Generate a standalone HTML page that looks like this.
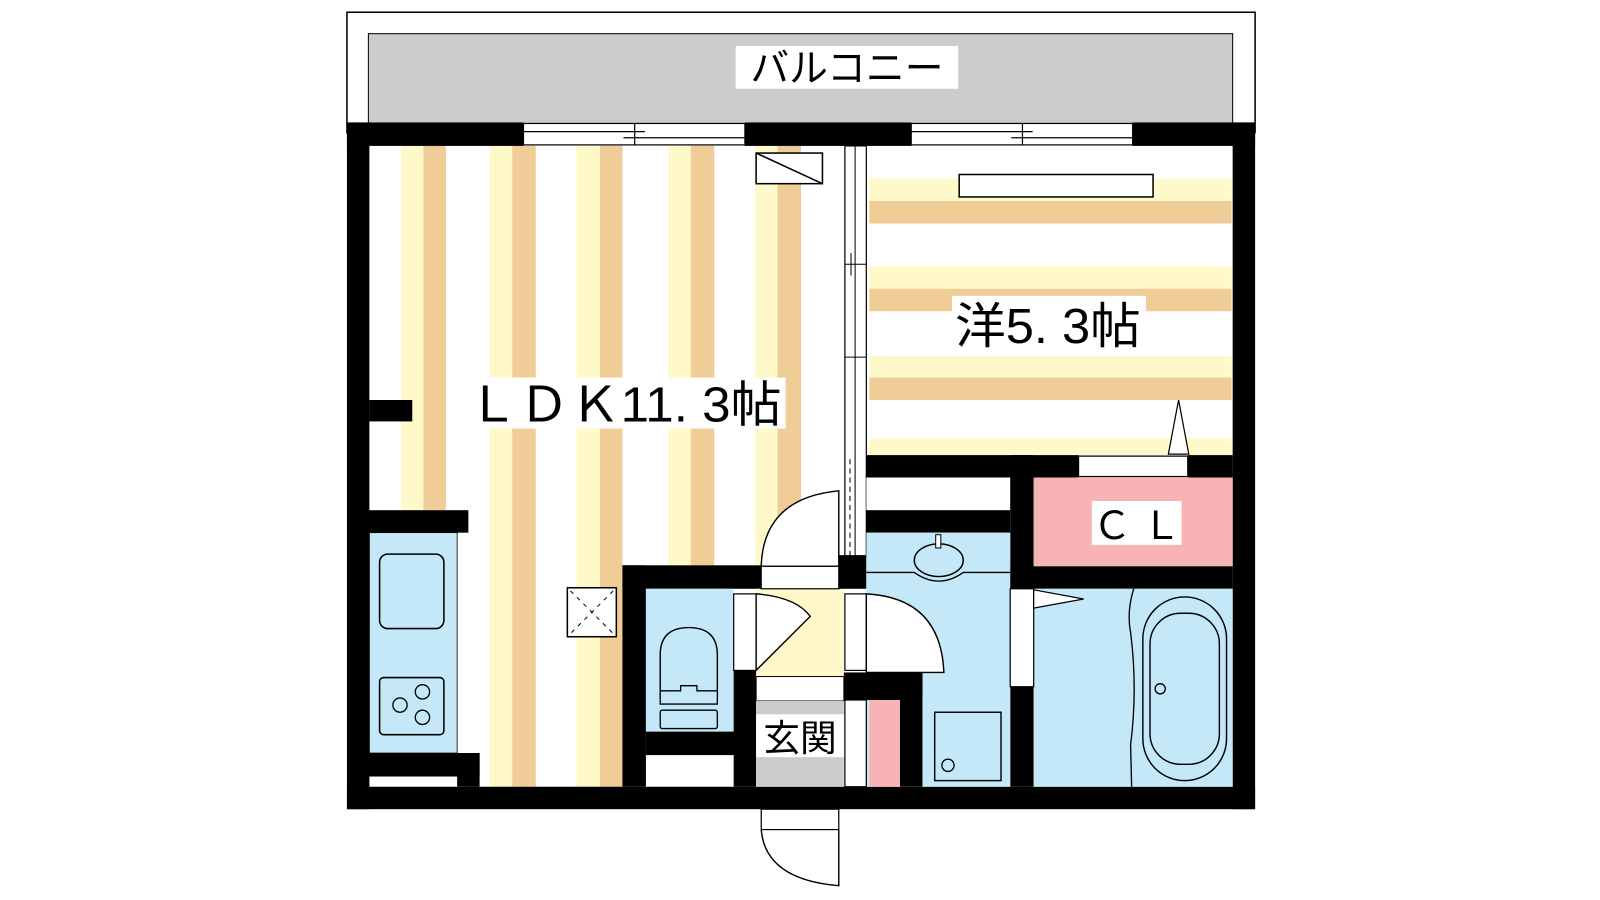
<!DOCTYPE html>
<html><head><meta charset="utf-8"><style>html,body{margin:0;padding:0;background:#fff;width:1600px;height:900px;overflow:hidden}svg{display:block}text{font-family:"Liberation Sans","Noto Sans CJK JP",sans-serif;fill:#000}</style></head><body>
<svg width="1600" height="900" viewBox="0 0 1568 882" preserveAspectRatio="none" xmlns="http://www.w3.org/2000/svg">
<!-- balcony -->
<rect x="340" y="12" width="890" height="118" fill="#fff" stroke="#000" stroke-width="1.5"/>
<rect x="361" y="33" width="847" height="90" fill="#cccccc" stroke="#000" stroke-width="1"/>
<rect x="721" y="45" width="218" height="42" fill="#fff"/>
<text x="830" y="80" font-size="38" text-anchor="middle">バルコニー</text>
<!-- LDK floor -->
<rect x="362" y="143" width="466" height="628" fill="#fff"/>
<g>
<rect x="393" y="143" width="22" height="357" fill="#fff8c8"/><rect x="415" y="143" width="22" height="357" fill="#f0cd96"/>
<rect x="480" y="143" width="22" height="628" fill="#fff8c8"/><rect x="502" y="143" width="23" height="628" fill="#f0cd96"/>
<rect x="565" y="143" width="23" height="628" fill="#fff8c8"/><rect x="588" y="143" width="22" height="628" fill="#f0cd96"/>
<rect x="655" y="143" width="22" height="411" fill="#fff8c8"/><rect x="677" y="143" width="23" height="411" fill="#f0cd96"/>
<rect x="740" y="143" width="22" height="411" fill="#fff8c8"/><rect x="762" y="143" width="23" height="411" fill="#f0cd96"/>
</g>
<!-- bedroom floor -->
<rect x="849" y="143" width="359" height="303" fill="#fff"/>
<rect x="852" y="175" width="355" height="22" fill="#fff8c8"/><rect x="852" y="197" width="355" height="22" fill="#f0cd96"/>
<rect x="852" y="261" width="355" height="22" fill="#fff8c8"/><rect x="852" y="283" width="355" height="22" fill="#f0cd96"/>
<rect x="852" y="349" width="355" height="21" fill="#fff8c8"/><rect x="852" y="370" width="355" height="22" fill="#f0cd96"/>
<rect x="852" y="430" width="355" height="16" fill="#fff8c8"/>
<rect x="940" y="171" width="190" height="22" fill="#fff" stroke="#000" stroke-width="1.5"/>
<rect x="933" y="290" width="190" height="55" fill="#fff"/>
<text x="936" y="336" font-size="48" textLength="182" lengthAdjust="spacingAndGlyphs">洋5. 3帖</text>
<polygon points="1145,445 1155,392 1165,445" fill="#fff" stroke="#000" stroke-width="1.2"/>
<!-- LDK label -->
<rect x="455" y="370" width="315" height="50" fill="#fff"/>
<text x="458" y="413" font-size="48" textLength="308" lengthAdjust="spacingAndGlyphs">ＬＤＫ11. 3帖</text>
<!-- AC -->
<rect x="741" y="150" width="65" height="30" fill="#fff" stroke="#000" stroke-width="1.5"/>
<line x1="741" y1="150" x2="806" y2="180" stroke="#000" stroke-width="1.5"/>
<!-- outer walls -->
<rect x="340" y="120" width="173" height="23" fill="#000"/>
<rect x="730" y="120" width="163" height="23" fill="#000"/>
<rect x="1110" y="120" width="120" height="23" fill="#000"/>
<rect x="340" y="120" width="22" height="673" fill="#000"/>
<rect x="1208" y="120" width="22" height="673" fill="#000"/>
<rect x="340" y="771" width="890" height="22" fill="#000"/>
<!-- windows -->
<g fill="#fff" stroke="#000" stroke-width="1.2">
<rect x="513" y="121" width="217" height="21"/><rect x="893" y="121" width="217" height="21"/>
</g>
<g stroke="#000" stroke-width="1.2">
<line x1="513" y1="129" x2="632" y2="129"/><line x1="611" y1="135" x2="730" y2="135"/><line x1="622" y1="121" x2="622" y2="142"/>
<line x1="893" y1="129" x2="1012" y2="129"/><line x1="991" y1="135" x2="1110" y2="135"/><line x1="1002" y1="121" x2="1002" y2="142"/>
</g>
<!-- left wall stub -->
<rect x="362" y="392" width="42" height="21" fill="#000"/>
<!-- sliding partition -->
<rect x="828" y="143" width="21" height="403" fill="#fff" stroke="#000" stroke-width="1.2"/>
<line x1="838" y1="143" x2="838" y2="546" stroke="#000" stroke-width="1"/>
<line x1="828" y1="259" x2="849" y2="259" stroke="#000" stroke-width="1"/>
<line x1="834" y1="248" x2="834" y2="270" stroke="#000" stroke-width="1"/>
<line x1="828" y1="350" x2="849" y2="350" stroke="#000" stroke-width="1"/>
<line x1="833" y1="450" x2="833" y2="546" stroke="#000" stroke-width="1" stroke-dasharray="5,4"/>
<!-- kitchen -->
<rect x="361" y="500" width="98" height="22" fill="#000"/>
<rect x="362" y="522" width="86" height="216" fill="#c4e8f8" stroke="#000" stroke-width="0.8"/>
<rect x="372" y="543" width="63" height="73" rx="8" fill="#c4e8f8" stroke="#000" stroke-width="1.5"/>
<rect x="372" y="664" width="63" height="56" rx="4" fill="#c4e8f8" stroke="#000" stroke-width="1.5"/>
<g fill="none" stroke="#000" stroke-width="1.3"><circle cx="392" cy="691" r="7"/><circle cx="414" cy="678" r="7"/><circle cx="414" cy="703" r="7"/></g>
<rect x="361" y="738" width="109" height="23" fill="#000"/>
<rect x="448" y="738" width="22" height="33" fill="#000"/>
<!-- pipe shaft -->
<rect x="556" y="576" width="48" height="48" fill="#fff" stroke="#000" stroke-width="1.5"/>
<line x1="559" y1="579" x2="601" y2="621" stroke="#000" stroke-dasharray="4,5"/><line x1="601" y1="579" x2="559" y2="621" stroke="#000" stroke-dasharray="4,5"/>
<!-- toilet block -->
<rect x="610" y="554" width="136" height="23" fill="#000"/>
<rect x="610" y="554" width="23" height="217" fill="#000"/>
<rect x="633" y="577" width="86" height="140" fill="#c4e8f8"/>
<path d="M647,685 V642 Q647,615 675,615 Q703,615 703,642 V685" fill="none" stroke="#000" stroke-width="1.4"/>
<path d="M647,677 H667 V672 H683 V677 H703 V690 H647 Z" fill="#c4e8f8" stroke="#000" stroke-width="1.3"/>
<rect x="647" y="696" width="56" height="18" rx="2" fill="#c4e8f8" stroke="#000" stroke-width="1.3"/>
<rect x="633" y="717" width="108" height="23" fill="#000"/>
<rect x="719" y="657" width="22" height="114" fill="#000"/>
<rect x="719" y="582" width="22" height="75" fill="#fff" stroke="#000" stroke-width="1.2"/>
<!-- entrance -->
<rect x="741" y="577" width="86" height="86" fill="#fff8c8"/>
<path d="M741,582 Q780,585 794,604 L741,657 Z" fill="#fff" stroke="#000" stroke-width="1.4"/>
<rect x="741" y="663" width="86" height="24" fill="#fff" stroke="#000" stroke-width="1"/>
<rect x="741" y="687" width="86" height="84" fill="#cccccc"/>
<rect x="741" y="700" width="86" height="42" fill="#fff"/>
<text x="784" y="736" font-size="36" text-anchor="middle">玄関</text>
<!-- LDK door -->
<path d="M822,481 Q748,488 746,555 L822,555 Z" fill="#fff" stroke="#000" stroke-width="1.4"/>
<rect x="746" y="555" width="76" height="22" fill="#fff" stroke="#000" stroke-width="1.2"/>
<rect x="822" y="544" width="27" height="33" fill="#000"/>
<!-- entry door -->
<rect x="746" y="793" width="76" height="20" fill="#fff" stroke="#000" stroke-width="1.2"/>
<path d="M822,813 V868 Q750,862 746,813" fill="none" stroke="#000" stroke-width="1.4"/>
<!-- bedroom bottom wall -->
<rect x="849" y="446" width="208" height="22" fill="#000"/>
<rect x="1057" y="447" width="107" height="20" fill="#fff" stroke="#000" stroke-width="1.2"/>
<rect x="1164" y="446" width="44" height="22" fill="#000"/>
<rect x="849" y="468" width="141" height="32" fill="#fff"/>
<rect x="849" y="500" width="141" height="22" fill="#000"/>
<!-- CL -->
<rect x="990" y="446" width="23" height="325" fill="#000"/>
<rect x="1013" y="468" width="195" height="87" fill="#f8b4b4"/>
<rect x="1070" y="491" width="88" height="43" fill="#fff"/>
<text x="1114" y="528" font-size="38" text-anchor="middle">Ｃ Ｌ</text>
<rect x="990" y="555" width="218" height="22" fill="#000"/>
<!-- wash room -->
<rect x="849" y="522" width="141" height="249" fill="#c4e8f8"/>
<path d="M849,561 H896 Q920,578 944,561 H990" fill="none" stroke="#000" stroke-width="1.3"/>
<ellipse cx="920" cy="549" rx="24" ry="16" fill="#c4e8f8" stroke="#000" stroke-width="1.4"/>
<rect x="917" y="524" width="5" height="13" fill="#fff" stroke="#000" stroke-width="1"/>
<rect x="828" y="582" width="21" height="75" fill="#fff" stroke="#000" stroke-width="1.2"/>
<path d="M849,582 Q922,586 925,659 L849,659 Z" fill="#fff" stroke="#000" stroke-width="1.4"/>
<rect x="827" y="659" width="77" height="27" fill="#000"/>
<rect x="882" y="659" width="22" height="112" fill="#000"/>
<rect x="852" y="686" width="30" height="85" fill="#f8b4b4"/>
<rect x="828" y="686" width="21" height="85" fill="#fff" stroke="#000" stroke-width="1.2"/>
<rect x="916" y="698" width="65" height="67" fill="none" stroke="#000" stroke-width="1.4"/>
<circle cx="929" cy="750" r="6" fill="none" stroke="#000" stroke-width="1.3"/>
<!-- bath -->
<rect x="1013" y="577" width="195" height="194" fill="#c4e8f8"/>
<rect x="990" y="577" width="23" height="96" fill="#fff" stroke="#000" stroke-width="1.2"/>
<polygon points="1013,578 1062,587 1013,596" fill="#fff" stroke="#000" stroke-width="1.2"/>
<path d="M1111,577 Q1104,600 1108,620 Q1115,675 1108,730 L1109,771" fill="none" stroke="#000" stroke-width="1.3"/>
<rect x="1120" y="585" width="82" height="180" rx="41" fill="none" stroke="#000" stroke-width="1.4"/>
<rect x="1127" y="601" width="68" height="148" rx="30" fill="none" stroke="#000" stroke-width="1.4"/>
<circle cx="1137" cy="675" r="5" fill="none" stroke="#000" stroke-width="1.3"/>
</svg>
</body></html>
